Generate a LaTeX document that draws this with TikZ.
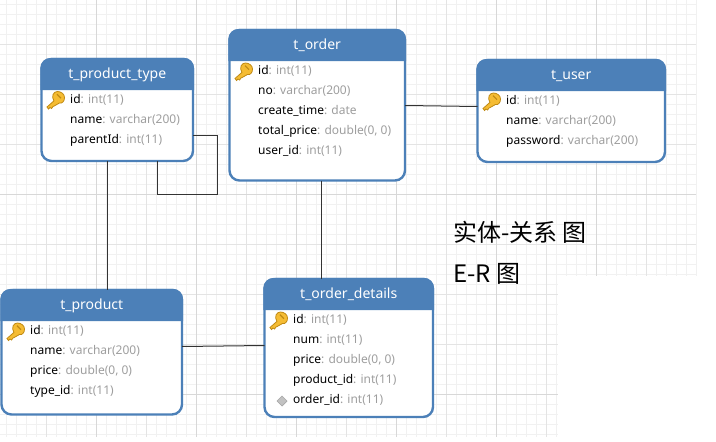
\documentclass[tikz,border=0pt]{standalone}
\usepackage{fontspec}
\setmainfont{Noto Sans}
\newfontfamily\cjkfont{Noto Sans CJK SC}
\usetikzlibrary{calc}
\definecolor{hdrblue}{HTML}{4C80B8}
\definecolor{typegray}{HTML}{9E9E9E}
\definecolor{gridminor}{HTML}{F1F1F1}
\definecolor{gridmid}{HTML}{E4E4E4}
\definecolor{gridmajor}{HTML}{D8D8D8}
\definecolor{keyfill}{HTML}{F5BC33}
\definecolor{keyline}{HTML}{C08A14}
\tikzset{
  x=1pt,y=-1pt,
  tablebox/.style={draw=hdrblue,line width=2.4pt,fill=white,rounded corners=10pt,inner sep=0pt,outer sep=0pt},
  titletext/.style={text=white,font=\fontsize{14}{16}\selectfont,inner sep=0pt,anchor=center},
  rowtext/.style={font=\fontsize{12}{14}\selectfont,inner sep=0pt,anchor=base west},
  link/.style={draw=black!80,line width=1pt},
  bigtext/.style={font=\fontsize{24}{28}\selectfont,inner sep=0pt,anchor=base west},
}
% name, left, top, right, bottom, header bottom, title
\newcommand{\tablebody}[7]{%
  \node[tablebox,minimum width=#4pt-#2pt,minimum height=#5pt-#3pt,anchor=north west] (#1) at (#2,#3) {};
  \fill[hdrblue] (#2-1.2,#6) -- (#2-1.2,#3+9) arc[start angle=180,end angle=90,radius=10pt] -- (#4-9,#3-1.2)
     arc[start angle=90,end angle=0,radius=10pt] -- (#4+1.2,#6) -- cycle;
  \node[titletext] (#1title) at ({(#2+#4)/2},{#3+15.5}) {#7};
}
\newcommand{\fieldrow}[5]{% name, x, baseline y, field, type
  \node[rowtext] (#1) at (#2,#3) {#4\textcolor{typegray}{: #5}};
}
\newcommand{\keyicon}[2]{% head centre
  \begin{scope}[shift={(#1,#2)}]
    \fill[keyfill,draw=keyline,line width=.8pt] (-3.6,3.4) -- (-10.5,9.5) -- (-9,11.5) -- (-7.5,10) -- (-6,11) -- (-4.5,9) -- (-3.5,8.6) -- (1.8,5.6)
      .. controls (5,6.2) and (7,3.5) .. (7,0) .. controls (7,-3.5) and (3.5,-6) .. (0,-6) .. controls (-4,-6) and (-6.5,-1.5) .. (-3.6,3.4) -- cycle;
    \fill[keyline] (-1,-3) -- (3,1) -- (3.8,.2) -- (-.2,-3.8) -- cycle;
  \end{scope}
}
\begin{document}
\begin{tikzpicture}
\useasboundingbox (0,0) rectangle (716,442);
\fill[white] (0,0) rectangle (716,442);
% grid, minor
\begin{scope}[line width=1pt]
\foreach \x in {6.5,16.5,...,556.5} \draw[gridminor] (\x,0) -- (\x,437);
\foreach \x in {566.5,576.5,...,696.5} \draw[gridminor] (\x,0) -- (\x,276);
\foreach \y in {4.5,14.5,...,274.5} \draw[gridminor] (0,\y) -- (696,\y);
\foreach \y in {284.5,294.5,...,434.5} \draw[gridminor] (0,\y) -- (558,\y);
% grid, every fifty
\foreach \x in {46.5,146.5,246.5,346.5,446.5,546.5} \draw[gridmid] (\x,0) -- (\x,437);
\draw[gridmid] (646.5,0) -- (646.5,276);
\foreach \y in {44.5,94.5,144.5,244.5} \draw[gridmid] (0,\y) -- (696,\y);
\foreach \y in {294.5,344.5} \draw[gridmid] (0,\y) -- (558,\y);
% grid, every hundred
\foreach \x in {96.5,196.5,296.5,396.5,496.5} \draw[gridmajor] (\x,0) -- (\x,437);
\draw[gridmajor] (596.5,0) -- (596.5,276);
\draw[gridmajor] (0,194.5) -- (696,194.5);
\draw[gridmajor] (0,394.5) -- (558,394.5);
\end{scope}

% tables
\tablebody{ptype}{41.5}{59}{193}{161}{90}{t\_product\_type}
\fieldrow{ptypeA}{70}{103}{id}{int(11)}
\fieldrow{ptypeB}{70}{123}{name}{varchar(200)}
\fieldrow{ptypeC}{70}{143}{parentId}{int(11)}
\keyicon{57.5}{97.5}

\tablebody{order}{229.5}{30}{405}{180.5}{61}{t\_order}
\fieldrow{orderA}{258}{74}{id}{int(11)}
\fieldrow{orderB}{258}{94}{no}{varchar(200)}
\fieldrow{orderC}{258}{114}{create\_time}{date}
\fieldrow{orderD}{258}{134}{total\_price}{double(0, 0)}
\fieldrow{orderE}{258}{154}{user\_id}{int(11)}
\keyicon{245.5}{69}

\tablebody{user}{477.5}{60}{665}{162}{91}{t\_user}
\fieldrow{userA}{506}{104}{id}{int(11)}
\fieldrow{userB}{506}{124}{name}{varchar(200)}
\fieldrow{userC}{506}{144}{password}{varchar(200)}
\keyicon{493.5}{99}

\tablebody{prod}{1.5}{290}{182}{414.5}{321}{t\_product}
\fieldrow{prodA}{30}{334}{id}{int(11)}
\fieldrow{prodB}{30}{354}{name}{varchar(200)}
\fieldrow{prodC}{30}{374}{price}{double(0, 0)}
\fieldrow{prodD}{30}{394}{type\_id}{int(11)}
\keyicon{17.5}{329}

\tablebody{det}{264.5}{279}{433}{417}{310}{t\_order\_details}
\fieldrow{detA}{293}{323}{id}{int(11)}
\fieldrow{detB}{293}{343}{num}{int(11)}
\fieldrow{detC}{293}{363}{price}{double(0, 0)}
\fieldrow{detD}{293}{383}{product\_id}{int(11)}
\fieldrow{detE}{293}{403}{order\_id}{int(11)}
\keyicon{280.5}{318}
\fill[gridmajor!90!black,draw=black!35,line width=.7pt] (282,396) -- (287,401) -- (282,406) -- (277,401) -- cycle;

% connector guides
\coordinate (xtypeprod) at (107.5,0);
\coordinate (xself) at (157.5,0);
\coordinate (xorderdet) at (321.5,0);
\coordinate (yself) at (0,135.5);
\coordinate (loopa) at (217.5,135.5);
\coordinate (loopb) at (217.5,194.5);
\coordinate (loopc) at (157.5,194.5);
\coordinate (yorderuserA) at (0,105.5);
\coordinate (yorderuserB) at (0,106.5);
\coordinate (yproddetA) at (0,346.5);
\coordinate (yproddetB) at (0,345.5);

% connectors
\draw[link] (ptype.south -| xtypeprod) -- (prod.north -| xtypeprod);
\draw[link] (ptype.east |- yself) -- (loopa) -- (loopb) -- (loopc) -- (ptype.south -| xself);
\draw[link] (order.south -| xorderdet) -- (det.north -| xorderdet);
\draw[link] (order.east |- yorderuserA) -- (user.west |- yorderuserB);
\draw[link] (prod.east |- yproddetA) -- (det.west |- yproddetB);

% caption
\node[bigtext] (capA) at (453,241) {\cjkfont 实体-关系 图};
\node[bigtext] (capB) at (453,282) {\cjkfont E-R 图};
\end{tikzpicture}
\end{document}
